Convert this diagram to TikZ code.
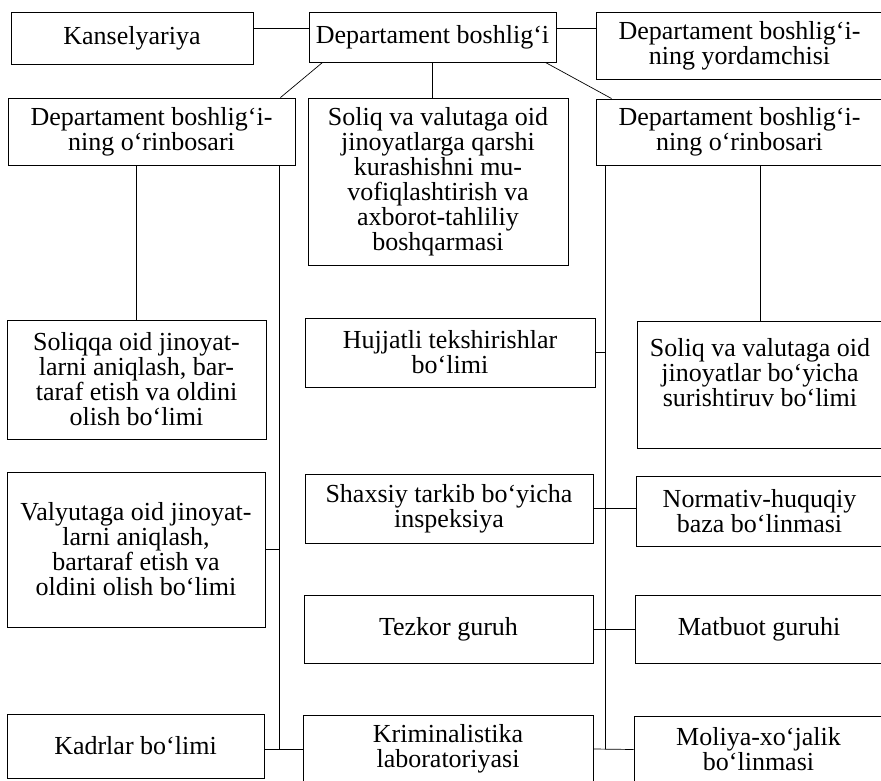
\documentclass[tikz,border=0pt]{standalone}
\usepackage{fontspec}
\setmainfont{Liberation Serif}

\begin{document}
\begin{tikzpicture}[x=1pt, y=-1pt,
                every node/.style={draw, line width=0.9pt, inner sep=0pt, align=center,
                                   font=\fontsize{26}{25}\selectfont},
                every edge/.style={draw, line width=0.7pt}]

                \useasboundingbox[fill=white] (0,0) rectangle (881,781);

                \node[minimum width=242, minimum height=52] (kans) at (132,38) {Kanselyariya};
                \node[minimum width=247, minimum height=50] (chief) at (432.5,37) {Departament boshlig‘i};
                \node[minimum width=287, minimum height=67] (assist) at (739.5,45.5) {Departament boshlig‘i-\\ning yordamchisi};
                \node[minimum width=287, minimum height=67] (depL) at (151.5,131.5) {Departament boshlig‘i-\\ning o‘rinbosari};
                \node[minimum width=260, minimum height=167] (board) at (438,181.5) {Soliq va valutaga oid\\jinoyatlarga qarshi\\kurashishni mu-\\vofiqlashtirish va\\axborot-tahliliy\\boshqarmasi};
                \node[minimum width=287, minimum height=66] (depR) at (739.5,132) {Departament boshlig‘i-\\ning o‘rinbosari};
                \node[minimum width=259, minimum height=119] (taxL) at (136.5,379.5) {Soliqqa oid jinoyat-\\larni aniqlash, bar-\\taraf etish va oldini\\olish bo‘limi};
                \node[minimum width=290, minimum height=69] (docs) at (450,352.5) {Hujjatli tekshirishlar\\bo‘limi};
                \node[minimum width=246, minimum height=127] (inq) at (760,384.5) {Soliq va valutaga oid\\jinoyatlar bo‘yicha\\surishtiruv bo‘limi\\\mbox{}};
                \node[minimum width=258, minimum height=155] (curL) at (136,549.5) {Valyutaga oid jinoyat-\\larni aniqlash,\\bartaraf etish va\\oldini olish bo‘limi};
                \node[minimum width=288, minimum height=69] (insp) at (449,508.5) {Shaxsiy tarkib bo‘yicha\\inspeksiya};
                \node[minimum width=247, minimum height=70] (norm) at (759.5,511) {Normativ-huquqiy\\baza bo‘linmasi};
                \node[minimum width=289, minimum height=68] (oper) at (448.5,629) {Tezkor guruh};
                \node[minimum width=248, minimum height=68] (press) at (759,629) {Matbuot guruhi};
                \node[minimum width=257, minimum height=64] (staff) at (135.5,746) {Kadrlar bo‘limi};
                \node[minimum width=290, minimum height=68] (lab) at (448,749) {Kriminalistika\\laboratoriyasi};
                \node[minimum width=249, minimum height=67] (fin) at (758.5,749.5) {Moliya-xo‘jalik\\bo‘linmasi};

                \coordinate (topline) at (0,28);
                \coordinate (trunkL) at (279,0);
                \coordinate (trunkR) at (605,0);

                \path (kans.east |- topline) edge (chief.west |- topline);
                \path (chief.east |- topline) edge (assist.west |- topline);
                \path ([xshift=14pt]chief.south west) edge ([xshift=-15pt]depL.north east);
                \path (chief.south) edge (chief.south |- board.north);
                \path ([xshift=-11pt]chief.south east) edge ([xshift=16pt]depR.north west);
                \path (taxL.north |- depL.south) edge (taxL.north);
                \path (inq.north |- depR.south) edge (inq.north);
                \path (trunkL |- depL.south) edge (trunkL |- lab.west);
                \path (trunkR |- depR.south) edge (trunkR |- lab.east);
                \path (curL.east) edge (curL.east -| trunkL);
                \path (staff.east |- lab.west) edge (lab.west);
                \path (docs.east) edge (docs.east -| trunkR);
                \path (insp.east) edge (insp.east -| norm.west);
                \path (oper.east) edge (oper.east -| press.west);
                \path (lab.east) edge (fin.west);
            \end{tikzpicture}
\end{document}
